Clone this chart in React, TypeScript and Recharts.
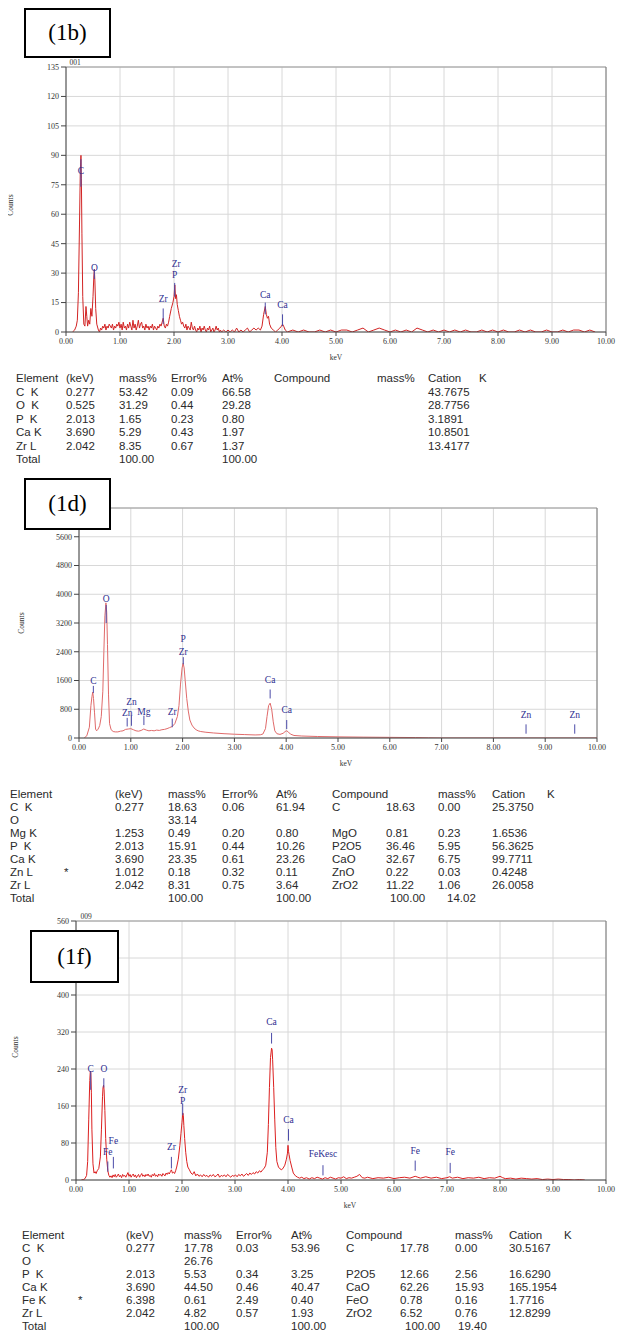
import React from 'react';
import { ComposedChart, Line, XAxis, YAxis, CartesianGrid, ReferenceLine, ReferenceDot } from 'recharts';

const SERIF = '"Liberation Serif", "Times New Roman", serif';
const SANS = '"Liberation Sans", Arial, sans-serif';

const kevTicks = [0, 1, 2, 3, 4, 5, 6, 7, 8, 9, 10];
const yTicks1b = [0, 15, 30, 45, 60, 75, 90, 105, 120, 135];
const yTicks1d = [0, 800, 1600, 2400, 3200, 4000, 4800, 5600, 6400];
const yTicks1f = [0, 80, 160, 240, 320, 400, 480, 560];

// [keV, counts]
const spectrum1b: [number, number][] = [
  [0.12, 0], [0.16, 1], [0.19, 3], [0.21, 6], [0.23, 20], [0.25, 55], [0.265, 82], [0.277, 90], [0.285, 78],
  [0.295, 50], [0.31, 18], [0.33, 4], [0.35, 3], [0.37, 13], [0.385, 8], [0.4, 3], [0.42, 6], [0.44, 4],
  [0.46, 12], [0.48, 8], [0.5, 18], [0.515, 28], [0.525, 32], [0.535, 26], [0.55, 12], [0.57, 4], [0.6, 1],
  [0.62, 0], [0.64, 2], [0.66, 1], [0.68, 3], [0.7, 2], [0.72, 4], [0.74, 1], [0.76, 3], [0.78, 2], [0.8, 4],
  [0.82, 3], [0.84, 2], [0.86, 4], [0.88, 1], [0.9, 3], [0.92, 2], [0.94, 4], [0.96, 3], [0.98, 5], [1.0, 2],
  [1.02, 4], [1.04, 1], [1.06, 5], [1.08, 2], [1.1, 3], [1.12, 1], [1.14, 4], [1.16, 2], [1.18, 5], [1.2, 3],
  [1.22, 1], [1.24, 6], [1.26, 2], [1.28, 4], [1.3, 1], [1.32, 3], [1.34, 6], [1.36, 2], [1.38, 4], [1.4, 5],
  [1.42, 2], [1.44, 3], [1.46, 1], [1.48, 4], [1.5, 2], [1.52, 3], [1.54, 1], [1.56, 3], [1.58, 2], [1.6, 4],
  [1.62, 1], [1.64, 3], [1.66, 2], [1.68, 1], [1.7, 3], [1.72, 2], [1.74, 4], [1.76, 3], [1.78, 5], [1.8, 7],
  [1.82, 3], [1.84, 2], [1.86, 4], [1.88, 3], [1.9, 5], [1.92, 8], [1.95, 12], [1.98, 15], [2.0, 18],
  [2.015, 24], [2.03, 17], [2.045, 19], [2.06, 14], [2.08, 11], [2.1, 8], [2.12, 6], [2.14, 4], [2.16, 5],
  [2.18, 3], [2.2, 2], [2.22, 4], [2.24, 1], [2.26, 3], [2.28, 2], [2.3, 1], [2.32, 5], [2.34, 2], [2.36, 1],
  [2.38, 3], [2.4, 1], [2.42, 0], [2.44, 2], [2.46, 1], [2.48, 3], [2.5, 0], [2.52, 2], [2.54, 1], [2.56, 3],
  [2.58, 1], [2.6, 0], [2.62, 2], [2.64, 1], [2.66, 3], [2.68, 0], [2.7, 1], [2.72, 2], [2.74, 0], [2.76, 1],
  [2.78, 3], [2.8, 1], [2.82, 2], [2.84, 0], [2.86, 1], [2.88, 0], [2.92, 1], [2.96, 0], [3.0, 1], [3.04, 0],
  [3.08, 1], [3.12, 0], [3.16, 2], [3.2, 0], [3.24, 1], [3.28, 0], [3.32, 1], [3.36, 2], [3.4, 0], [3.44, 1],
  [3.48, 2], [3.52, 1], [3.56, 2], [3.6, 1], [3.63, 3], [3.66, 9], [3.69, 13], [3.71, 9], [3.73, 7], [3.75, 8],
  [3.77, 4], [3.8, 2], [3.84, 1], [3.88, 0], [3.92, 1], [3.96, 2], [3.99, 3], [4.01, 4], [4.03, 3], [4.06, 1],
  [4.1, 0], [4.2, 1], [4.3, 0], [4.4, 1], [4.5, 0], [4.6, 0], [4.7, 1], [4.8, 0], [4.9, 1], [5.0, 0], [5.1, 1],
  [5.2, 1], [5.3, 0], [5.4, 1], [5.5, 2], [5.6, 0], [5.7, 1], [5.8, 2], [5.9, 1], [6.0, 0], [6.1, 1], [6.2, 0],
  [6.3, 1], [6.4, 0], [6.5, 2], [6.6, 1], [6.7, 0], [6.8, 1], [6.9, 0], [7.0, 1], [7.1, 0], [7.2, 1], [7.3, 0],
  [7.4, 1], [7.5, 0], [7.6, 0], [7.7, 1], [7.8, 0], [7.9, 1], [8.0, 0], [8.1, 1], [8.2, 0], [8.3, 0], [8.4, 1],
  [8.5, 0], [8.6, 1], [8.7, 0], [8.8, 0], [8.9, 1], [9.0, 0], [9.1, 0], [9.2, 1], [9.3, 0], [9.4, 1], [9.5, 1],
  [9.6, 0], [9.7, 1], [9.8, 0],
];

const spectrum1d: [number, number][] = [
  [0.1, 0], [0.15, 60], [0.2, 300], [0.23, 900], [0.25, 1150], [0.265, 1280], [0.28, 1100], [0.3, 700],
  [0.32, 250], [0.34, 200], [0.36, 230], [0.38, 280], [0.4, 350], [0.43, 600], [0.46, 1300], [0.48, 2400],
  [0.5, 3400], [0.52, 3760], [0.535, 3500], [0.55, 2600], [0.57, 1200], [0.59, 400], [0.62, 230], [0.66, 180],
  [0.7, 170], [0.75, 170], [0.8, 190], [0.85, 200], [0.9, 240], [0.95, 250], [1.0, 260], [1.05, 230],
  [1.1, 200], [1.15, 190], [1.2, 210], [1.25, 250], [1.3, 220], [1.35, 200], [1.4, 210], [1.45, 200],
  [1.5, 220], [1.55, 210], [1.6, 230], [1.65, 240], [1.7, 260], [1.75, 290], [1.8, 320], [1.85, 400],
  [1.9, 600], [1.93, 900], [1.96, 1500], [1.99, 1950], [2.01, 2080], [2.03, 1950], [2.05, 1600], [2.08, 1100],
  [2.11, 750], [2.14, 500], [2.18, 360], [2.22, 280], [2.26, 230], [2.3, 200], [2.35, 180], [2.45, 160],
  [2.6, 140], [2.8, 120], [3.0, 105], [3.2, 95], [3.4, 85], [3.5, 90], [3.55, 110], [3.6, 260], [3.63, 600],
  [3.66, 900], [3.69, 970], [3.72, 800], [3.75, 450], [3.78, 200], [3.82, 120], [3.88, 100], [3.94, 130],
  [3.98, 180], [4.01, 200], [4.04, 170], [4.08, 110], [4.15, 70], [4.3, 55], [4.6, 42], [5.0, 32], [5.5, 24],
  [6.0, 18], [6.5, 12], [6.75, 5], [7.0, 0], [10.0, 0],
];

const spectrum1f: [number, number][] = [
  [0.1, 0], [0.14, 1], [0.17, 3], [0.2, 10], [0.22, 40], [0.24, 130], [0.26, 215], [0.27, 235], [0.28, 232],
  [0.29, 190], [0.3, 110], [0.32, 35], [0.34, 15], [0.36, 18], [0.38, 14], [0.4, 20], [0.43, 25], [0.46, 50],
  [0.48, 110], [0.5, 180], [0.51, 200], [0.52, 205], [0.53, 195], [0.545, 150], [0.56, 90], [0.58, 45],
  [0.6, 20], [0.62, 10], [0.64, 6], [0.66, 9], [0.68, 5], [0.7, 11], [0.72, 7], [0.74, 12], [0.76, 6], [0.78, 9],
  [0.8, 13], [0.82, 7], [0.84, 10], [0.86, 5], [0.88, 12], [0.9, 8], [0.92, 10], [0.94, 6], [0.96, 11],
  [0.98, 16], [1.0, 8], [1.02, 12], [1.04, 6], [1.06, 10], [1.08, 13], [1.1, 7], [1.12, 11], [1.14, 5],
  [1.16, 9], [1.18, 12], [1.2, 6], [1.22, 10], [1.24, 14], [1.26, 8], [1.28, 11], [1.3, 7], [1.32, 12],
  [1.34, 9], [1.36, 13], [1.38, 8], [1.4, 10], [1.42, 6], [1.44, 12], [1.46, 9], [1.48, 14], [1.5, 8],
  [1.52, 11], [1.54, 7], [1.56, 13], [1.58, 10], [1.6, 12], [1.62, 8], [1.64, 14], [1.66, 11], [1.68, 9],
  [1.7, 15], [1.72, 12], [1.74, 16], [1.76, 13], [1.78, 18], [1.8, 22], [1.82, 15], [1.84, 17], [1.86, 14],
  [1.88, 20], [1.9, 28], [1.93, 45], [1.96, 75], [1.98, 100], [2.0, 125], [2.015, 145], [2.025, 140],
  [2.035, 118], [2.05, 90], [2.07, 60], [2.09, 40], [2.11, 28], [2.14, 22], [2.17, 15], [2.2, 12], [2.23, 18],
  [2.26, 9], [2.29, 13], [2.32, 8], [2.35, 11], [2.38, 7], [2.41, 12], [2.44, 8], [2.47, 10], [2.5, 6],
  [2.53, 11], [2.56, 8], [2.59, 12], [2.62, 7], [2.65, 9], [2.68, 13], [2.71, 6], [2.74, 10], [2.77, 8],
  [2.8, 11], [2.83, 7], [2.86, 12], [2.89, 9], [2.92, 6], [2.95, 10], [2.98, 8], [3.01, 11], [3.04, 7],
  [3.07, 12], [3.1, 9], [3.13, 13], [3.16, 8], [3.19, 11], [3.22, 14], [3.25, 10], [3.28, 15], [3.31, 12],
  [3.34, 16], [3.37, 13], [3.4, 18], [3.43, 15], [3.46, 20], [3.49, 17], [3.52, 22], [3.55, 25], [3.58, 32],
  [3.61, 60], [3.63, 120], [3.65, 200], [3.67, 265], [3.69, 285], [3.7, 282], [3.71, 260], [3.73, 200],
  [3.75, 130], [3.77, 70], [3.79, 40], [3.82, 28], [3.85, 24], [3.88, 22], [3.91, 26], [3.94, 32], [3.97, 45],
  [3.99, 58], [4.0, 75], [4.01, 62], [4.02, 55], [4.04, 42], [4.07, 28], [4.1, 15], [4.14, 9], [4.18, 6],
  [4.22, 4], [4.26, 6], [4.3, 3], [4.35, 5], [4.4, 2], [4.45, 5], [4.5, 3], [4.55, 6], [4.6, 4], [4.65, 2],
  [4.7, 5], [4.75, 3], [4.8, 6], [4.85, 4], [4.9, 2], [4.95, 5], [5.0, 4], [5.05, 7], [5.1, 3], [5.15, 5],
  [5.2, 4], [5.25, 6], [5.3, 8], [5.35, 12], [5.4, 5], [5.45, 4], [5.5, 6], [5.6, 3], [5.7, 5], [5.8, 4],
  [5.9, 6], [6.0, 3], [6.1, 5], [6.2, 6], [6.3, 4], [6.4, 8], [6.45, 6], [6.5, 4], [6.6, 7], [6.7, 4], [6.8, 6],
  [6.9, 3], [7.0, 5], [7.05, 7], [7.1, 4], [7.2, 6], [7.3, 3], [7.4, 5], [7.5, 4], [7.6, 6], [7.7, 3], [7.8, 5],
  [7.9, 4], [8.0, 8], [8.05, 5], [8.1, 3], [8.2, 4], [8.3, 2], [8.4, 4], [8.5, 3], [8.6, 2], [8.7, 3], [8.8, 1],
  [8.9, 2], [9.0, 1], [9.1, 2], [9.2, 1], [9.3, 1], [9.4, 0], [9.5, 1], [9.6, 0],
];

// peak markers: label, keV, line from y0 to y1, label height ly (counts)
type Marker = { label: string; kev: number; y0?: number; y1?: number; ly: number };

const markers1b: Marker[] = [
  { label: 'C', kev: 0.277, y0: 74, y1: 88, ly: 82 },
  { label: 'O', kev: 0.525, y0: 27, y1: 32, ly: 33 },
  { label: 'Zr', kev: 1.8, y0: 4, y1: 12, ly: 17 },
  { label: 'P', kev: 2.013, y0: 18, y1: 25, ly: 29 },
  { label: 'Zr', kev: 2.042, ly: 35 },
  { label: 'Ca', kev: 3.69, y0: 9, y1: 15, ly: 19 },
  { label: 'Ca', kev: 4.01, y0: 3, y1: 9, ly: 14 },
];

const markers1d: Marker[] = [
  { label: 'C', kev: 0.277, y0: 1250, y1: 1450, ly: 1600 },
  { label: 'O', kev: 0.525, y0: 3200, y1: 3700, ly: 3880 },
  { label: 'Zn', kev: 0.93, y0: 320, y1: 560, ly: 700 },
  { label: 'Zn', kev: 1.012, y0: 340, y1: 620, ly: 1000 },
  { label: 'Mg', kev: 1.253, y0: 360, y1: 620, ly: 740 },
  { label: 'Zr', kev: 1.8, y0: 300, y1: 540, ly: 720 },
  { label: 'Zr', kev: 2.013, y0: 2050, y1: 2250, ly: 2400 },
  { label: 'P', kev: 2.013, ly: 2760 },
  { label: 'Ca', kev: 3.69, y0: 1100, y1: 1350, ly: 1620 },
  { label: 'Ca', kev: 4.01, y0: 250, y1: 500, ly: 800 },
  { label: 'Zn', kev: 8.63, y0: 120, y1: 380, ly: 640 },
  { label: 'Zn', kev: 9.57, y0: 120, y1: 380, ly: 640 },
];

const markers1f: Marker[] = [
  { label: 'C', kev: 0.277, y0: 195, y1: 235, ly: 240 },
  { label: 'O', kev: 0.525, y0: 200, y1: 220, ly: 240 },
  { label: 'Fe', kev: 0.6, y0: 18, y1: 40, ly: 62 },
  { label: 'Fe', kev: 0.705, y0: 25, y1: 50, ly: 86 },
  { label: 'Zr', kev: 1.8, y0: 25, y1: 50, ly: 72 },
  { label: 'P', kev: 2.013, y0: 140, y1: 165, ly: 172 },
  { label: 'Zr', kev: 2.013, ly: 196 },
  { label: 'Ca', kev: 3.69, y0: 295, y1: 318, ly: 343 },
  { label: 'Ca', kev: 4.01, y0: 85, y1: 110, ly: 130 },
  { label: 'FeKesc', kev: 4.66, y0: 10, y1: 32, ly: 57 },
  { label: 'Fe', kev: 6.4, y0: 20, y1: 42, ly: 64 },
  { label: 'Fe', kev: 7.06, y0: 15, y1: 37, ly: 62 },
];

const header1 = ['Element', '(keV)', 'mass%', 'Error%', 'At%', 'Compound', 'mass%', 'Cation', 'K'];
const rows1 = [
  ['C  K', '0.277', '53.42', '0.09', '66.58', '', '', '43.7675', ''],
  ['O  K', '0.525', '31.29', '0.44', '29.28', '', '', '28.7756', ''],
  ['P  K', '2.013', '1.65', '0.23', '0.80', '', '', '3.1891', ''],
  ['Ca K', '3.690', '5.29', '0.43', '1.97', '', '', '10.8501', ''],
  ['Zr L', '2.042', '8.35', '0.67', '1.37', '', '', '13.4177', ''],
  ['Total', '', '100.00', '', '100.00', '', '', '', ''],
];

const header2 = ['Element', '', '(keV)', 'mass%', 'Error%', 'At%', 'Compound', '', 'mass%', 'Cation', 'K'];
const rows2 = [
  ['C  K', '', '0.277', '18.63', '0.06', '61.94', 'C', '18.63', '0.00', '25.3750', ''],
  ['O', '', '', '33.14', '', '', '', '', '', '', ''],
  ['Mg K', '', '1.253', '0.49', '0.20', '0.80', 'MgO', '0.81', '0.23', '1.6536', ''],
  ['P  K', '', '2.013', '15.91', '0.44', '10.26', 'P2O5', '36.46', '5.95', '56.3625', ''],
  ['Ca K', '', '3.690', '23.35', '0.61', '23.26', 'CaO', '32.67', '6.75', '99.7711', ''],
  ['Zn L', '*', '1.012', '0.18', '0.32', '0.11', 'ZnO', '0.22', '0.03', '0.4248', ''],
  ['Zr L', '', '2.042', '8.31', '0.75', '3.64', 'ZrO2', '11.22', '1.06', '26.0058', ''],
  ['Total', '', '', '100.00', '', '100.00', '', '100.00', '14.02', '', ''],
];

const header3 = header2;
const rows3 = [
  ['C  K', '', '0.277', '17.78', '0.03', '53.96', 'C', '17.78', '0.00', '30.5167', ''],
  ['O', '', '', '26.76', '', '', '', '', '', '', ''],
  ['P  K', '', '2.013', '5.53', '0.34', '3.25', 'P2O5', '12.66', '2.56', '16.6290', ''],
  ['Ca K', '', '3.690', '44.50', '0.46', '40.47', 'CaO', '62.26', '15.93', '165.1954', ''],
  ['Fe K', '*', '6.398', '0.61', '2.49', '0.40', 'FeO', '0.78', '0.16', '1.7716', ''],
  ['Zr L', '', '2.042', '4.82', '0.57', '1.93', 'ZrO2', '6.52', '0.76', '12.8299', ''],
  ['Total', '', '', '100.00', '', '100.00', '', '100.00', '19.40', '', ''],
];

type SpectrumProps = {
  data: [number, number][];
  yTicks: number[];
  hiddenTick?: number; // tick label covered by the panel box
  markers: Marker[];
  color: string;
  top: number;
  height: number;
  margin: { top: number; right: number; bottom: number; left: number };
  yWidth: number;
};

const Spectrum: React.FC<SpectrumProps> = ({ data, yTicks, hiddenTick, markers, color, top, height, margin, yWidth }) => {
  const rows = data.map(([kev, c]) => ({ kev, c }));
  const yMax = yTicks[yTicks.length - 1];
  const tickStyle = { fontSize: 8, fontFamily: SERIF, fill: '#333' };
  return (
    <div style={{ position: 'absolute', left: 0, top }}>
      <ComposedChart width={627} height={height} data={rows} margin={margin}>
        <CartesianGrid stroke="#d8d8d8" strokeWidth={1} />
        <XAxis
          dataKey="kev"
          type="number"
          domain={[0, 10]}
          ticks={kevTicks}
          tickFormatter={(v: number) => v.toFixed(2)}
          tick={tickStyle}
          tickSize={4}
          axisLine={{ stroke: '#444' }}
          tickLine={{ stroke: '#444' }}
          height={30}
          allowDataOverflow
        />
        <YAxis
          type="number"
          domain={[0, yMax]}
          ticks={yTicks}
          tickFormatter={(v: number) => (v === hiddenTick ? '' : String(v))}
          tick={tickStyle}
          tickSize={5}
          width={yWidth}
          axisLine={{ stroke: '#444' }}
          tickLine={{ stroke: '#444' }}
          allowDataOverflow
        />
        <ReferenceLine y={yMax} stroke="#9a9a9a" />
        <ReferenceLine x={10} stroke="#777" />
        <Line
          dataKey="c"
          type="linear"
          stroke={color}
          strokeWidth={1}
          dot={false}
          isAnimationActive={false}
        />
        {markers.filter((m) => m.y0 !== undefined).map((m, i) => (
          <ReferenceLine
            key={`l${i}`}
            segment={[{ x: m.kev, y: m.y0 }, { x: m.kev, y: m.y1 }]}
            stroke="#4b4ba8"
            strokeWidth={1}
          />
        ))}
        {markers.map((m, i) => (
          <ReferenceDot
            key={`d${i}`}
            x={m.kev}
            y={m.ly}
            r={0}
            fill="none"
            stroke="none"
            label={{ value: m.label, position: 'center', fill: '#2e2e90', fontSize: 9.5, fontFamily: SERIF }}
          />
        ))}
      </ComposedChart>
    </div>
  );
};

const Table: React.FC<{ header: string[]; rows: string[][]; cols: number[]; top: number; step: number; totalNudge?: number[] }> = ({
  header,
  rows,
  cols,
  top,
  step,
  totalNudge,
}) => (
  <div style={{ position: 'absolute', left: 0, top, fontFamily: SANS, fontSize: 11.5, color: '#2a2a2a', lineHeight: 1 }}>
    {[header, ...rows].map((r, ri) =>
      r.map((cell, ci) =>
        cell ? (
          <span
            key={`${ri}-${ci}`}
            style={{
              position: 'absolute',
              whiteSpace: 'pre',
              left: cols[ci] + (r[0] === 'Total' && totalNudge ? totalNudge[ci] : 0),
              top: ri * step,
            }}
          >
            {cell}
          </span>
        ) : null,
      ),
    )}
  </div>
);

const Box: React.FC<{ text: string; left: number; top: number; w: number; h: number }> = ({ text, left, top, w, h }) => (
  <div
    style={{
      position: 'absolute',
      left,
      top,
      width: w,
      height: h,
      boxSizing: 'border-box',
      border: '2px solid #000',
      background: '#fff',
      fontFamily: SERIF,
      fontSize: 23,
      display: 'flex',
      alignItems: 'center',
      justifyContent: 'center',
    }}
  >
    {text}
  </div>
);

const small = (left: number, top: number, text: string, rotate = false): React.ReactNode => (
  <div
    style={{
      position: 'absolute',
      left,
      top,
      fontFamily: SERIF,
      fontSize: 7.5,
      color: '#333',
      whiteSpace: 'pre',
      transform: rotate ? 'translate(-50%, -50%) rotate(-90deg)' : 'translate(-50%, -50%)',
    }}
  >
    {text}
  </div>
);

export default function App() {
  return (
    <div style={{ position: 'relative', width: 627, height: 1339, margin: -8, background: '#fff', overflow: 'hidden' }}>
      {/* (1b) */}
      <Spectrum
        data={spectrum1b}
        yTicks={yTicks1b}
        markers={markers1b}
        color="#d22424"
        top={55}
        height={320}
        margin={{ top: 12, right: 21, bottom: 13, left: 16 }}
        yWidth={50}
      />
      {small(75, 62, '001')}
      {small(10, 205, 'Counts', true)}
      {small(336, 357, 'keV')}
      <Box text="(1b)" left={24} top={8} w={87} h={50} />
      <Table header={header1} rows={rows1} cols={[16, 66, 119, 171, 222, 274, 377, 428, 479]} top={373} step={13.5} />

      {/* (1d) */}
      <Spectrum
        data={spectrum1d}
        yTicks={yTicks1d}
        hiddenTick={6400}
        markers={markers1d}
        color="#e06a6a"
        top={495}
        height={285}
        margin={{ top: 13, right: 30, bottom: 12, left: 25 }}
        yWidth={54}
      />
      {small(21, 623, 'Counts', true)}
      {small(346, 763, 'keV')}
      <Box text="(1d)" left={24} top={478} w={87} h={52} />
      <Table
        header={header2}
        rows={rows2}
        cols={[10, 64, 115, 168, 222, 276, 332, 386, 438, 492, 547]}
        top={789}
        step={13}
        totalNudge={[0, 0, 0, 0, 0, 0, 0, 4, 9, 0, 0]}
      />

      {/* (1f) */}
      <Spectrum
        data={spectrum1f}
        yTicks={yTicks1f}
        hiddenTick={480}
        markers={markers1f}
        color="#dc2020"
        top={908}
        height={315}
        margin={{ top: 13, right: 21, bottom: 13, left: 22 }}
        yWidth={54}
      />
      {small(86, 916, '009')}
      {small(15, 1047, 'Counts', true)}
      {small(350, 1205, 'keV')}
      <Box text="(1f)" left={30} top={930} w={89} h={53} />
      <Table
        header={header3}
        rows={rows3}
        cols={[22, 78, 126, 184, 236, 291, 346, 400, 455, 509, 564]}
        top={1230}
        step={13}
        totalNudge={[0, 0, 0, 0, 0, 0, 0, 5, 3, 0, 0]}
      />
    </div>
  );
}
